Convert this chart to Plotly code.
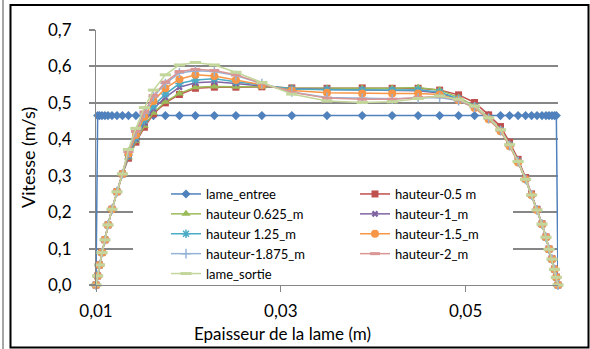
import plotly.graph_objects as go

# Epaisseur de la lame (m)
X = [0.01, 0.01018, 0.01038, 0.01065, 0.01097, 0.0113, 0.01173, 0.01227, 0.01286, 0.01351,
     0.01432, 0.01524, 0.01622, 0.01751, 0.01903, 0.02076, 0.02281, 0.02514, 0.02795, 0.03119,
     0.035, 0.03881, 0.04205, 0.04486, 0.04719, 0.04924, 0.05097, 0.05249, 0.05378, 0.05476,
     0.05568, 0.05649, 0.05714, 0.05773, 0.05827, 0.0587, 0.05903, 0.05935, 0.05962, 0.05982, 0.06]

lame_entree = [0, 0.465, 0.465, 0.465, 0.465, 0.465, 0.465, 0.465, 0.465, 0.465,
               0.465, 0.465, 0.465, 0.465, 0.465, 0.465, 0.465, 0.465, 0.465, 0.465,
               0.465, 0.465, 0.465, 0.465, 0.465, 0.465, 0.465, 0.465, 0.465, 0.465,
               0.465, 0.465, 0.465, 0.465, 0.465, 0.465, 0.465, 0.465, 0.465, 0.465, 0]
h_05 = [0, 0.025, 0.055, 0.089, 0.124, 0.165, 0.208, 0.256, 0.305,
        0.348, 0.392, 0.433, 0.470, 0.500, 0.523, 0.540, 0.543, 0.543, 0.544, 0.541, 0.540,
        0.541, 0.540, 0.540, 0.535, 0.522, 0.501, 0.467, 0.435, 0.392, 0.345,
        0.295, 0.250, 0.208, 0.168, 0.132, 0.099, 0.072, 0.044, 0.022, 0]
h_0625 = [0, 0.025, 0.055, 0.089, 0.124, 0.165, 0.208, 0.256, 0.305,
          0.350, 0.395, 0.437, 0.473, 0.503, 0.526, 0.543, 0.545, 0.544, 0.544, 0.541, 0.540,
          0.540, 0.540, 0.542, 0.535, 0.515, 0.492, 0.460, 0.426, 0.384, 0.339,
          0.290, 0.247, 0.206, 0.167, 0.131, 0.098, 0.071, 0.043, 0.021, 0]
h_1 = [0, 0.025, 0.055, 0.089, 0.124, 0.165, 0.208, 0.256, 0.305,
       0.353, 0.400, 0.445, 0.484, 0.515, 0.543, 0.555, 0.558, 0.553, 0.547, 0.539, 0.537,
       0.536, 0.535, 0.533, 0.527, 0.510, 0.489, 0.458, 0.425, 0.384, 0.339,
       0.290, 0.247, 0.206, 0.167, 0.131, 0.098, 0.071, 0.043, 0.021, 0]
h_125 = [0, 0.025, 0.055, 0.089, 0.124, 0.165, 0.208, 0.256, 0.305,
         0.356, 0.405, 0.452, 0.492, 0.524, 0.553, 0.563, 0.566, 0.558, 0.548, 0.538, 0.536,
         0.535, 0.535, 0.536, 0.530, 0.511, 0.490, 0.458, 0.425, 0.384, 0.339,
         0.290, 0.247, 0.206, 0.167, 0.131, 0.098, 0.071, 0.043, 0.021, 0]
h_15 = [0, 0.025, 0.055, 0.089, 0.124, 0.165, 0.208, 0.256, 0.305,
        0.360, 0.412, 0.462, 0.505, 0.540, 0.565, 0.577, 0.574, 0.563, 0.548, 0.534, 0.528,
        0.526, 0.526, 0.526, 0.523, 0.507, 0.486, 0.455, 0.422, 0.381, 0.336,
        0.290, 0.247, 0.206, 0.167, 0.131, 0.098, 0.071, 0.043, 0.021, 0]
h_1875 = [0, 0.025, 0.055, 0.089, 0.124, 0.165, 0.208, 0.256, 0.305,
          0.365, 0.420, 0.472, 0.517, 0.553, 0.582, 0.588, 0.586, 0.575, 0.553, 0.530, 0.515,
          0.512, 0.511, 0.513, 0.515, 0.506, 0.488, 0.457, 0.424, 0.383, 0.339,
          0.290, 0.247, 0.206, 0.167, 0.131, 0.098, 0.071, 0.043, 0.021, 0]
h_2 = [0, 0.025, 0.055, 0.089, 0.124, 0.165, 0.208, 0.256, 0.305,
       0.366, 0.422, 0.475, 0.520, 0.557, 0.586, 0.592, 0.589, 0.577, 0.553, 0.529, 0.513,
       0.510, 0.510, 0.515, 0.518, 0.508, 0.489, 0.458, 0.425, 0.384, 0.339,
       0.290, 0.247, 0.206, 0.167, 0.131, 0.098, 0.071, 0.043, 0.021, 0]
lame_sortie = [0, 0.025, 0.055, 0.089, 0.124, 0.165, 0.208, 0.256, 0.305,
               0.372, 0.430, 0.487, 0.535, 0.577, 0.604, 0.611, 0.604, 0.584, 0.556, 0.524, 0.505,
               0.501, 0.503, 0.512, 0.519, 0.510, 0.491, 0.459, 0.426, 0.385, 0.339,
               0.290, 0.247, 0.206, 0.167, 0.131, 0.098, 0.071, 0.043, 0.021, 0]

SERIES_NAMES = ["lame_entree", "hauteur-0.5 m", "hauteur 0.625_m", "hauteur-1_m", "hauteur 1.25_m",
                "hauteur-1.5_m", "hauteur-1.875_m", "hauteur-2_m", "lame_sortie"]
SERIES_VALUES = [lame_entree, h_05, h_0625, h_1, h_125, h_15, h_1875, h_2, lame_sortie]
COLORS = ["#4F81BD", "#C0504D", "#9BBB59", "#8064A2", "#4BACC6", "#F79646", "#95B3D7", "#D99694", "#C3D69B"]
SYMBOLS = ["diamond", "square", "triangle-up", "x", "asterisk-open", "circle", "cross-thin-open",
           "line-ew-open", "line-ew-open"]
SIZES = [7, 7, 8, 6, 7, 8, 7, 7, 8]

X_TICKS = [0.01, 0.03, 0.05]
Y_TICKS = [0.0, 0.1, 0.2, 0.3, 0.4, 0.5, 0.6, 0.7]

fig = go.Figure()
for name, vals, col, sym, sz in zip(SERIES_NAMES, SERIES_VALUES, COLORS, SYMBOLS, SIZES):
    open_sym = sym.endswith("-open")
    lw = 3 if sym.startswith("line") else 1.5
    fig.add_trace(go.Scatter(
        x=X, y=vals, name=name, mode="lines+markers",
        line=dict(color=col, width=1.5),
        marker=dict(symbol=sym, size=sz, color=col,
                    line=dict(color=col, width=lw if open_sym else 0)),
        cliponaxis=False,
    ))

P0, P1 = 96, 558      # plot area x px
T0, B0 = 30, 285      # plot area y px
W_, H_ = P1 - P0, B0 - T0
def px(x):
    return (x - P0) / W_
def py(y):
    return (B0 - y) / H_

grey = "#868686"
fig.update_layout(
    width=590, height=349,
    margin=dict(l=P0, r=590 - P1, t=T0, b=349 - B0),
    paper_bgcolor="white", plot_bgcolor="white",
    separators=",.",
    font=dict(family="Lato", size=16, color="#000000"),
    showlegend=True,
    legend=dict(orientation="h", x=px(166), y=py(179), xanchor="left", yanchor="top",
                bgcolor="rgba(0,0,0,0)", font=dict(size=13), entrywidth=144,
                itemwidth=30, tracegroupgap=0),
    xaxis=dict(range=[0.01, 0.06], tickvals=X_TICKS, tickformat=".2f",
               showgrid=False, zeroline=False, showline=True, linecolor=grey, linewidth=1,
               ticks="outside", ticklen=6, tickcolor=grey, tickwidth=1,
               tickfont=dict(size=17), ticklabelstandoff=5),
    yaxis=dict(range=[0, 0.7], tickvals=Y_TICKS, tickformat=".1f",
               showgrid=True, gridcolor=grey, gridwidth=2, zeroline=False,
               showline=True, linecolor=grey, linewidth=1,
               ticks="outside", ticklen=6, tickcolor=grey, tickwidth=2,
               tickfont=dict(size=17), ticklabelstandoff=14),
    annotations=[
        dict(text="Vitesse (m/s)", xref="paper", yref="paper", x=px(28), y=py(158),
             xanchor="center", yanchor="middle", textangle=-90, showarrow=False,
             font=dict(size=18)),
        dict(text="Epaisseur de la lame (m)", xref="paper", yref="paper", x=px(282), y=py(333),
             xanchor="center", yanchor="middle", showarrow=False, font=dict(size=17)),
    ],
    shapes=[
        # legend box background (white, no border)
        dict(type="rect", xref="paper", yref="paper", x0=px(133), x1=px(513), y0=py(278), y1=py(180),
             fillcolor="white", line=dict(width=0), layer="above"),
        dict(type="rect", xref="paper", yref="paper", x0=px(10.5), x1=px(588.5), y0=py(347.5), y1=py(5),
             line=dict(color="black", width=2), layer="below"),
        dict(type="line", xref="paper", yref="paper", x0=px(3), x1=px(3), y0=py(349), y1=py(0),
             line=dict(color="#A6A6A6", width=2)),
    ],
)

fig.write_html("out.html")
